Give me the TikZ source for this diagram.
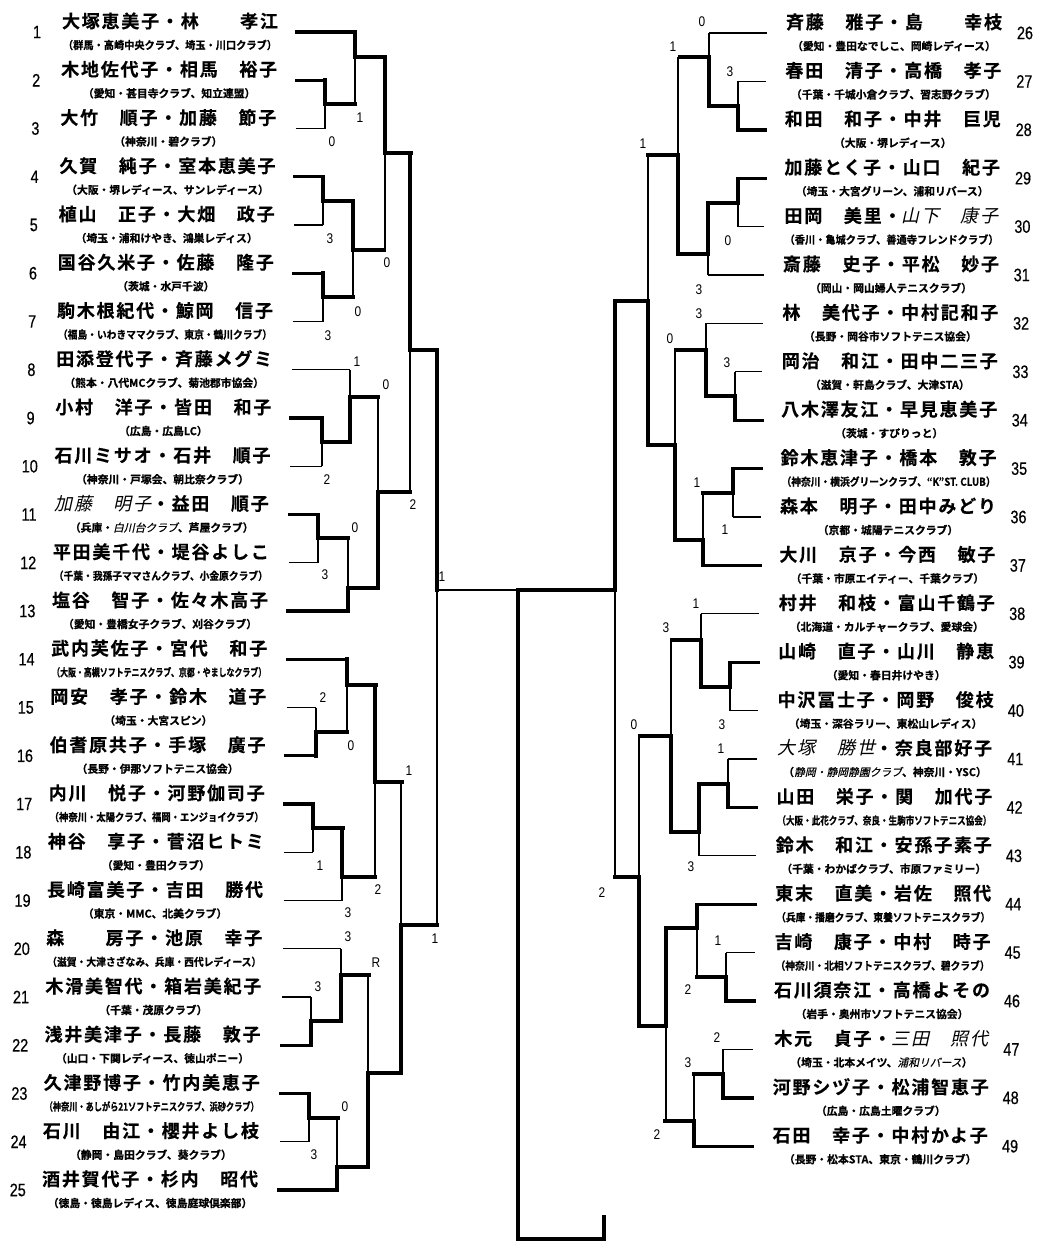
\documentclass[tikz,border=0pt]{standalone}
\usepackage{fontspec}
\usepackage{graphicx}
\newfontfamily\namefont{Noto Sans CJK JP Bold}[LetterSpace=10,FakeBold=0.3]
\newfontfamily\handname{Noto Sans CJK JP}[FakeSlant=0.22,LetterSpace=10]
\newfontfamily\clubfont{Noto Sans CJK JP Bold}[FakeBold=0.8]
\newfontfamily\handclub{Noto Sans CJK JP}[FakeSlant=0.22,FakeBold=0.4]
\newfontfamily\numfont{Liberation Sans}[FakeStretch=0.8,FakeBold=0.5]
\newfontfamily\scorefont{Liberation Sans}[FakeStretch=0.85]

% handwritten (slanted) parts
\newcommand\hand[1]{{\handname #1}}
\newcommand\handc[1]{{\handclub #1}}

% club line, squeezed when too wide
\newsavebox\clubbox
\newcommand\club[1]{\sbox\clubbox{\clubfont\fontsize{10.8pt}{11pt}\selectfont （#1）}%
  \ifdim\wd\clubbox>214pt\resizebox{214pt}{\height}{\usebox\clubbox}\else\usebox\clubbox\fi}

% one match: vertical x, top y, bottom y, out y, out x, winner (t/b)
\newcommand\bout[6]{%
  \draw[lose] (#1,#2) -- (#1,#3);
  \if#6t\def\bwy{#2}\else\def\bwy{#3}\fi
  \draw[win] (#1,\bwy) -- (#1,#4) -- (#5,#4);
}

\tikzset{
  win/.style={line width=3.4pt, line cap=rect},
  lose/.style={line width=1.3pt},
  pairname/.style={inner sep=0pt, font=\namefont\fontsize{18pt}{18pt}\selectfont},
  clubline/.style={inner sep=0pt},
  entryno/.style={inner sep=0pt, font=\numfont\fontsize{18pt}{18pt}\selectfont},
  score/.style={inner sep=0pt, font=\scorefont\fontsize{14pt}{14pt}\selectfont},
}

\begin{document}
\begin{tikzpicture}[x=1pt, y=-1pt]

    \useasboundingbox (0,0) rectangle (1038,1245);

    % Left block: entries 1 to 25
    \foreach \i/\xv/\w/\nm/\cl in {
      1/355/win/{大塚恵美子・林　　孝江}/{群馬・高崎中央クラブ、埼玉・川口クラブ},
      2/325/win/{木地佐代子・相馬　裕子}/{愛知・甚目寺クラブ、知立連盟},
      3/325/lose/{大竹　順子・加藤　節子}/{神奈川・碧クラブ},
      4/323/win/{久賀　純子・室本恵美子}/{大阪・堺レディース、サンレディース},
      5/323/lose/{植山　正子・大畑　政子}/{埼玉・浦和けやき、鴻巣レディス},
      6/323/win/{国谷久米子・佐藤　隆子}/{茨城・水戸千波},
      7/323/lose/{駒木根紀代・鯨岡　信子}/{福島・いわきママクラブ、東京・鶴川クラブ},
      8/350/lose/{田添登代子・斉藤メグミ}/{熊本・八代MCクラブ、菊池郡市協会},
      9/322/win/{小村　洋子・皆田　和子}/{広島・広島LC},
      10/322/lose/{石川ミサオ・石井　順子}/{神奈川・戸塚会、朝比奈クラブ},
      11/318/win/{\hand{加藤　明子}・益田　順子}/{兵庫・\handc{白川台クラブ}、芦屋クラブ},
      12/318/lose/{平田美千代・堤谷よしこ}/{千葉・我孫子ママさんクラブ、小金原クラブ},
      13/348/win/{塩谷　智子・佐々木高子}/{愛知・豊橋女子クラブ、刈谷クラブ},
      14/347/win/{武内芙佐子・宮代　和子}/{大阪・高槻ソフトテニスクラブ、京都・やましなクラブ},
      15/316/lose/{岡安　孝子・鈴木　道子}/{埼玉・大宮スピン},
      16/316/win/{伯耆原共子・手塚　廣子}/{長野・伊那ソフトテニス協会},
      17/313/win/{内川　悦子・河野伽司子}/{神奈川・太陽クラブ、福岡・エンジョイクラブ},
      18/313/lose/{神谷　享子・菅沼ヒトミ}/{愛知・豊田クラブ},
      19/342/lose/{長崎富美子・吉田　勝代}/{東京・MMC、北美クラブ},
      20/341/lose/{森　　房子・池原　幸子}/{滋賀・大津さざなみ、兵庫・西代レディース},
      21/311/lose/{木滑美智代・箱岩美紀子}/{千葉・茂原クラブ},
      22/311/win/{浅井美津子・長藤　敦子}/{山口・下関レディース、徳山ポニー},
      23/309/win/{久津野博子・竹内美恵子}/{神奈川・あしがら21ソフトテニスクラブ、浜砂クラブ},
      24/309/lose/{石川　由江・櫻井よし枝}/{静岡・島田クラブ、葵クラブ},
      25/337/win/{酒井賀代子・杉内　昭代}/{徳島・徳島レディス、徳島庭球倶楽部}}{
      \pgfmathsetmacro\ly{32+48.25*(\i-1)}
      \pgfmathsetmacro\lx{297-0.75*(\i-1)}
      \pgfmathsetmacro\cx{170-0.83*(\i-1)}
      \pgfmathsetmacro\kx{37-0.8*(\i-1)}
      \draw[\w] (\lx,\ly) -- (\xv,\ly);
      \node[pairname] (n\i) at (\cx,\ly-11) {\nm};
      \node[clubline] (c\i) at (\cx,\ly+13) {\club{\cl}};
      \node[entryno] (k\i) at (\kx,\ly) {\i};
    }

    % Right block: entries 26 to 49
    \foreach \i/\xv/\w/\nm/\cl in {
      26/709/lose/{斉藤　雅子・島　　幸枝}/{愛知・豊田なでしこ、岡崎レディース},
      27/738/lose/{春田　清子・高橋　孝子}/{千葉・千城小倉クラブ、習志野クラブ},
      28/738/win/{和田　和子・中井　巨児}/{大阪・堺レディース},
      29/738/win/{加藤とく子・山口　紀子}/{埼玉・大宮グリーン、浦和リバース},
      30/738/lose/{田岡　美里・\hand{山下　康子}}/{香川・亀城クラブ、善通寺フレンドクラブ},
      31/708/lose/{斎藤　史子・平松　妙子}/{岡山・岡山婦人テニスクラブ},
      32/706/lose/{林　美代子・中村記和子}/{長野・岡谷市ソフトテニス協会},
      33/735/lose/{岡治　和江・田中二三子}/{滋賀・軒島クラブ、大津STA},
      34/735/win/{八木澤友江・早見恵美子}/{茨城・すぴりっと},
      35/733/win/{鈴木恵津子・橋本　敦子}/{神奈川・横浜グリーンクラブ、“K”ST. CLUB},
      36/733/lose/{森本　明子・田中みどり}/{京都・城陽テニスクラブ},
      37/703/win/{大川　京子・今西　敏子}/{千葉・市原エイティー、千葉クラブ},
      38/701/lose/{村井　和枝・富山千鶴子}/{北海道・カルチャークラブ、愛球会},
      39/730/win/{山崎　直子・山川　静恵}/{愛知・春日井けやき},
      40/730/lose/{中沢冨士子・岡野　俊枝}/{埼玉・深谷ラリー、東松山レディス},
      41/728/lose/{\hand{大塚　勝世}・奈良部好子}/{\handc{静岡・静岡静園クラブ}、神奈川・YSC},
      42/728/win/{山田　栄子・関　加代子}/{大阪・此花クラブ、奈良・生駒市ソフトテニス協会},
      43/699/lose/{鈴木　和江・安孫子素子}/{千葉・わかばクラブ、市原ファミリー},
      44/697/win/{東末　直美・岩佐　照代}/{兵庫・播磨クラブ、東養ソフトテニスクラブ},
      45/726/lose/{吉崎　康子・中村　時子}/{神奈川・北相ソフトテニスクラブ、碧クラブ},
      46/726/win/{石川須奈江・高橋よその}/{岩手・奥州市ソフトテニス協会},
      47/723/lose/{木元　貞子・\hand{三田　照代}}/{埼玉・北本メイツ、\handc{浦和リバース}},
      48/723/win/{河野シヅ子・松浦智恵子}/{広島・広島土曜クラブ},
      49/694/win/{石田　幸子・中村かよ子}/{長野・松本STA、東京・鶴川クラブ}}{
      \pgfmathsetmacro\ly{33+48.4*(\i-26)}
      \pgfmathsetmacro\lx{767-0.65*(\i-26)}
      \pgfmathsetmacro\cx{894-0.6*(\i-26)}
      \pgfmathsetmacro\kx{1025-0.65*(\i-26)}
      \draw[\w] (\xv,\ly) -- (\lx,\ly);
      \node[pairname] (n\i) at (\cx,\ly-11) {\nm};
      \node[clubline] (c\i) at (\cx,\ly+13) {\club{\cl}};
      \node[entryno] (k\i) at (\kx,\ly) {\i};
    }

    % Left bracket
    \bout{325}{80}{128.5}{104}{355}{t}
    \bout{355}{32}{104}{57}{385}{t}
    \bout{323}{177}{225}{201}{353}{t}
    \bout{323}{273}{321.5}{297}{353}{t}
    \bout{353}{201}{297}{250}{384}{t}
    \bout{385}{57}{250}{153}{411}{t}
    \bout{322}{418}{466}{442}{350}{t}
    \bout{350}{370}{442}{397}{378}{b}
    \bout{318}{514.5}{563}{538}{348}{t}
    \bout{348}{538}{611}{588}{378}{b}
    \bout{378}{397}{588}{492}{410}{b}
    \bout{410}{153}{492}{350}{437}{t}
    \bout{316}{707.5}{756}{732}{347}{b}
    \bout{347}{659}{732}{685}{376}{t}
    \bout{313}{804}{852}{828}{343}{t}
    \bout{342}{828}{900.5}{877}{375}{t}
    \bout{375}{685}{877}{782}{402}{t}
    \bout{311}{997}{1045}{1021}{341}{b}
    \bout{341}{949}{1021}{975}{369}{b}
    \bout{309}{1093.5}{1142}{1118}{338}{t}
    \bout{337}{1118}{1190}{1167}{368}{b}
    \bout{368}{975}{1167}{1073}{401}{b}
    \bout{401}{782}{1073}{925}{437}{b}
    \draw[lose] (437,350) -- (437,925);
    \draw[win] (437,350) -- (437,590);
    \draw[lose] (437,590) -- (518,590);

    % Right bracket
    \bout{738}{81.4}{129.8}{106}{709}{b}
    \bout{709}{33}{106}{57}{680}{b}
    \bout{738}{178.2}{226.6}{203}{708}{t}
    \bout{708}{203}{275}{254}{678}{t}
    \bout{678}{57}{254}{155}{648}{b}
    \bout{735}{371.8}{420.2}{396}{706}{b}
    \bout{706}{323.4}{396}{350}{676}{b}
    \bout{733}{468.6}{517}{493}{703}{t}
    \bout{703}{493}{565.4}{540}{675}{b}
    \bout{675}{350}{540}{445}{648}{b}
    \bout{648}{155}{445}{301}{616}{b}
    \bout{730}{662.2}{710.6}{687}{701}{t}
    \bout{701}{613.8}{687}{640}{672}{b}
    \bout{728}{759}{807.4}{784}{699}{b}
    \bout{699}{784}{855.8}{832}{671}{t}
    \bout{671}{640}{832}{736}{640}{b}
    \bout{726}{952.6}{1001}{977}{697}{b}
    \bout{697}{904.2}{977}{928}{667}{t}
    \bout{723}{1049.4}{1097.8}{1074}{694}{b}
    \bout{694}{1074}{1146.2}{1121}{665}{b}
    \bout{666}{928}{1121}{1026}{639}{t}
    \bout{639}{736}{1026}{877}{615}{b}
    \bout{615}{301}{877}{590}{518}{t}

    % Champion line
    \draw[win] (518,590) -- (518,1239) -- (604,1239) -- (604,1217);

    % Scores, left
    \foreach \s/\sx/\sy/\v in {1/332/142/0, 2/360/118/1, 3/330/239/3, 4/328/336/3,
      5/358/312/0, 6/387/263/0, 7/327/480/2, 8/357/362/1, 9/325/575/3, 10/355/528/0,
      11/386/385/0, 12/413/505/2, 13/323/698/2, 14/351/746/0, 15/320/866/1,
      16/348/913/3, 17/378/890/2, 18/318/987/3, 19/348/937/3, 20/314/1155/3,
      21/345/1107/0, 22/376/963/R, 23/409/771/1, 24/435/939/1, 25/442/577/1}
      \node[score] (sl\s) at (\sx,\sy) {\v};

    % Scores, right
    \foreach \s/\sx/\sy/\v in {1/730/72/3, 2/702/22/0, 3/728/241/0, 4/699/290/3,
      5/673/47/1, 6/727/363/3, 7/699/314/3, 8/725/530/1, 9/697/483/1, 10/670/339/0,
      11/643/144/1, 12/722/725/3, 13/696/604/1, 14/721/749/1, 15/691/867/3,
      16/666/628/3, 17/718/941/1, 18/688/990/2, 19/717/1038/2, 20/688/1063/3,
      21/657/1135/2, 22/634/725/0, 23/602/893/2}
      \node[score] (sr\s) at (\sx,\sy) {\v};

\end{tikzpicture}
\end{document}
